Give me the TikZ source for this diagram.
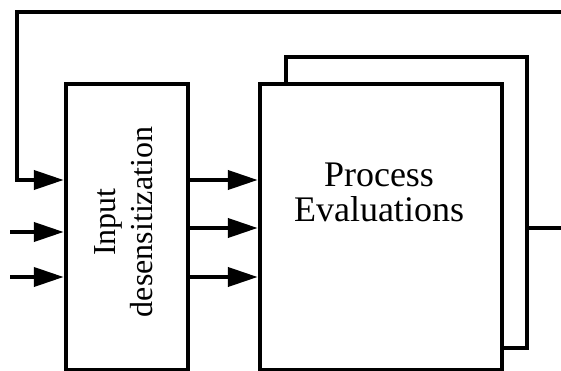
\documentclass[tikz,border=0pt]{standalone}
\usepackage{fontspec}
\setmainfont{Liberation Serif}
\usetikzlibrary{arrows.meta}
\tikzset{
  blk/.style={draw, line width=4.5pt, fill=white, inner sep=0pt},
  conn/.style={line width=4pt},
  arr/.style={conn, -{Triangle[length=30pt,width=19pt]}},
}
\begin{document}
\begin{tikzpicture}[x=1pt,y=-1pt]
\useasboundingbox (0,0) rectangle (561,371);
% boxes
\node[blk, minimum width=241pt, minimum height=291pt] (shadow) at (406.5,202.5) {};
\node[blk, minimum width=242pt, minimum height=286pt] (proc) at (381,227) {};
\node[blk, minimum width=122pt, minimum height=286pt] (inbox) at (127,227) {};
% texts
\node[align=center, font=\fontsize{36}{35}\selectfont] (ptext) at (379,192) {Process\\Evaluations};
\node[align=center, rotate=90, font=\fontsize{32}{37}\selectfont] (itext) at (124,222) {Input\\desensitization};
% rows
\coordinate (r1) at (0,180);
\coordinate (r2) at (0,228);
\coordinate (r3) at (0,277);
\coordinate (s2) at (10,232);
\coordinate (s3) at (10,277);
\coordinate (fbR) at (561,12);
\coordinate (fbL) at (17,12);
\coordinate (out) at (561,228);
% connectors
\draw[arr] (fbR) -- (fbL) |- (inbox.west |- r1);
\draw[arr] (s2) -- (inbox.west |- s2);
\draw[arr] (s3) -- (inbox.west |- s3);
\draw[arr] (inbox.east |- r1) -- (proc.west |- r1);
\draw[arr] (inbox.east |- r2) -- (proc.west |- r2);
\draw[arr] (inbox.east |- r3) -- (proc.west |- r3);
\draw[conn] (shadow.east |- out) -- (out);
\end{tikzpicture}
\end{document}
